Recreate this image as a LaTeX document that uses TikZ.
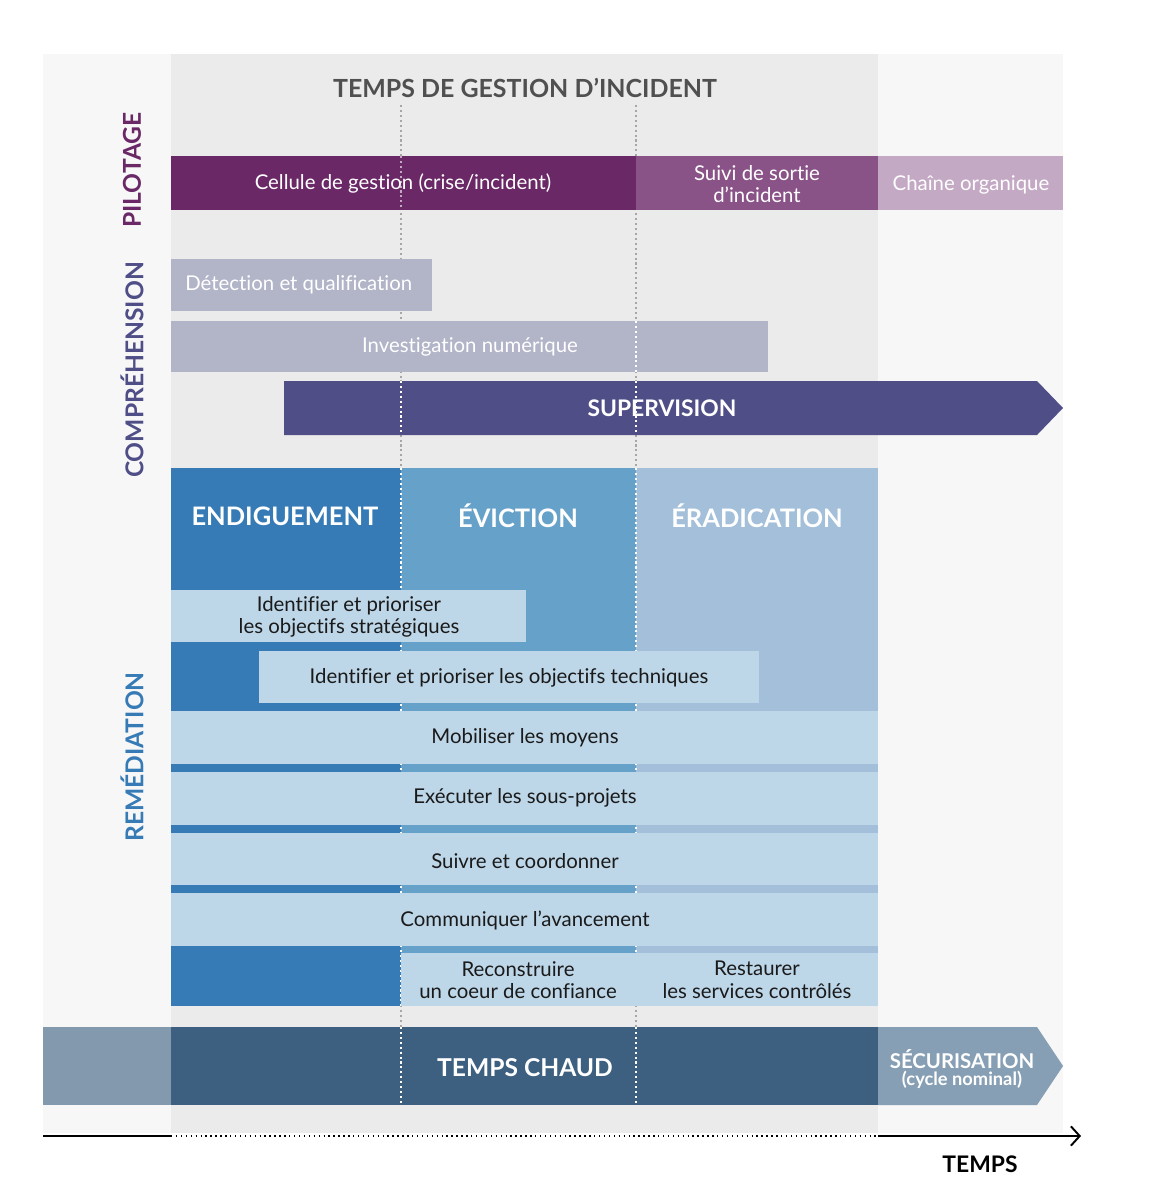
\documentclass[tikz,border=0pt]{standalone}
\usepackage{fontspec}
\setmainfont{Lato}[Ligatures=NoCommon]
\usepackage{xcolor}
\usetikzlibrary{arrows.meta}

\definecolor{bgout}{HTML}{F7F7F7}
\definecolor{bgin}{HTML}{EBEBEB}
\definecolor{pilA}{HTML}{6A2866}
\definecolor{pilB}{HTML}{8A5388}
\definecolor{pilC}{HTML}{C4A9C4}
\definecolor{compr}{HTML}{B2B4C8}
\definecolor{superv}{HTML}{4F4E87}
\definecolor{endig}{HTML}{367BB5}
\definecolor{evic}{HTML}{65A1C9}
\definecolor{erad}{HTML}{A3BFD9}
\definecolor{lightb}{HTML}{BDD6E8}
\definecolor{tchaud}{HTML}{3D6080}
\definecolor{tleft}{HTML}{8399AE}
\definecolor{secur}{HTML}{879FB4}
\definecolor{titlegray}{HTML}{505050}
\definecolor{textdark}{HTML}{1A1A1A}

\begin{document}
\begin{tikzpicture}[x=0.02cm,y=-0.02cm,
  txt/.style={font=\fontsize{11.6}{12.8}\selectfont, align=center, inner sep=0pt},
  txtw/.style={txt, text=white},
  txtd/.style={txt, text=textdark},
  caps/.style={font=\fontsize{13}{15}\selectfont\bfseries, inner sep=0pt},
  phase/.style={font=\fontsize{14.5}{16}\selectfont\bfseries, text=white, inner sep=0pt},
  side/.style={font=\fontsize{14}{16}\selectfont\bfseries, rotate=90, inner sep=0pt},
  sep/.style={dash pattern=on 1.2pt off 1.6pt, line width=0.9pt},
  >={Straight Barb[length=5pt,width=11pt]}]

  \useasboundingbox (0,0) rectangle (1169,1200);
  \fill[white] (0,0) rectangle (1169,1200);
  % fonds
  \fill[bgout] (43,54) rectangle (1063,1133);
  \fill[bgin] (171,54) rectangle (878,1133);
  \node[caps, font=\fontsize{14.2}{16}\selectfont\bfseries, text=titlegray] (titre) at (525,88) {TEMPS DE GESTION D’INCIDENT};

  % reperes de phase
  \foreach \x in {401,636}
    \draw[sep, gray!70] (\x,105) -- (\x,1027);

  % pilotage
  \fill[pilA] (171,156) rectangle (636,210);
  \fill[pilB] (636,156) rectangle (878,210);
  \fill[pilC] (878,156) rectangle (1063,210);
  \draw[sep, white!60!pilA] (401,156) -- (401,210);
  \node[txtw] (cellule) at (403,183) {Cellule de gestion (crise/incident)};
  \node[txtw] (suivi) at (757,184) {Suivi de sortie\\d’incident};
  \node[txtw] (chaine) at (971,185) {Chaîne organique};

  % comprehension
  \fill[compr] (171,259) rectangle (432,311);
  \fill[compr] (171,321) rectangle (768,372);
  \draw[sep, white] (636,321) -- (636,372);
  \node[txtw, anchor=west] (detect) at (185,285) {Détection et qualification};
  \node[txtw] (invest) at (470,347) {Investigation numérique};
  \fill[superv] (284,381) -- (1037,381) -- (1063,408) -- (1037,435) -- (284,435) -- cycle;
  \foreach \x in {401,636}
    \draw[sep, white] (\x,381) -- (\x,435);
  \node[caps, text=white] (superv) at (662,408) {SUPERVISION};

  % remediation
  \fill[endig] (171,468) rectangle (401,1006);
  \fill[evic] (401,468) rectangle (636,953);
  \fill[erad] (636,468) rectangle (878,953);
  \foreach \x in {401,636}
    \draw[sep, white] (\x,468) -- (\x,1006);
  \node[phase] (endiguement) at (285,516) {ENDIGUEMENT};
  \node[phase] (eviction) at (518,516) {ÉVICTION};
  \node[phase] (eradication) at (757,516) {ÉRADICATION};

  \fill[lightb] (171,590) rectangle (526,642);
  \fill[lightb] (259,651) rectangle (759,703);
  \foreach \ya/\yb in {711/764, 772/825, 833/885, 893/946}
    \fill[lightb] (171,\ya) rectangle (878,\yb);
  \fill[lightb] (401,953) rectangle (878,1006);

  \node[txtd] (strat) at (349,617) {Identifier et prioriser\\les objectifs stratégiques};
  \node[txtd] (techn) at (509,678) {Identifier et prioriser les objectifs techniques};
  \node[txtd] (mobil) at (525,738) {Mobiliser les moyens};
  \node[txtd] (exec) at (525,798) {Exécuter les sous-projets};
  \node[txtd] (suivre) at (525,861) {Suivre et coordonner};
  \node[txtd] (commu) at (525,920) {Communiquer l’avancement};
  \node[txtd] (recons) at (518,980) {Reconstruire\\un coeur de confiance};
  \node[txtd] (resta) at (757,980) {Restaurer\\les services contrôlés};

  % temps chaud
  \fill[tleft] (43,1027) rectangle (171,1105);
  \fill[tchaud] (171,1027) rectangle (878,1105);
  \fill[secur] (878,1027) -- (1037,1027) -- (1063,1066) -- (1037,1105) -- (878,1105) -- cycle;
  \foreach \x in {401,636}
    \draw[sep, white] (\x,1027) -- (\x,1105);
  \node[phase, font=\fontsize{14}{16}\selectfont\bfseries] (chaud) at (525,1068) {TEMPS CHAUD};
  \node[font=\fontsize{11.6}{13}\selectfont\bfseries, text=white, inner sep=0pt] (secu) at (962,1059) {SÉCURISATION};
  \node[font=\fontsize{10.4}{12}\selectfont\bfseries, text=white, inner sep=0pt] (cycle) at (962,1080) {(cycle nominal)};

  % axe du temps
  \coordinate (ax0) at (43,1136);
  \coordinate (ax1) at (171,1136);
  \coordinate (ax2) at (878,1136);
  \coordinate (ax3) at (1081,1136);
  \draw[line width=1.1pt] (ax0) -- (ax1);
  \draw[line width=1pt, dash pattern=on 0.8pt off 2pt] (ax1) -- (ax2);
  \draw[->, line width=1.1pt] (ax2) -- (ax3);
  \node[font=\fontsize{13}{15}\selectfont\bfseries, inner sep=0pt] (temps) at (980,1164) {TEMPS};

  % etiquettes laterales
  \node[side, text=pilA] (pilotage) at (132,170) {PILOTAGE};
  \node[side, text=superv] (compre) at (132,370) {COMPRÉHENSION};
  \node[side, text=endig] (remed) at (132,757) {REMÉDIATION};
\end{tikzpicture}
\end{document}
